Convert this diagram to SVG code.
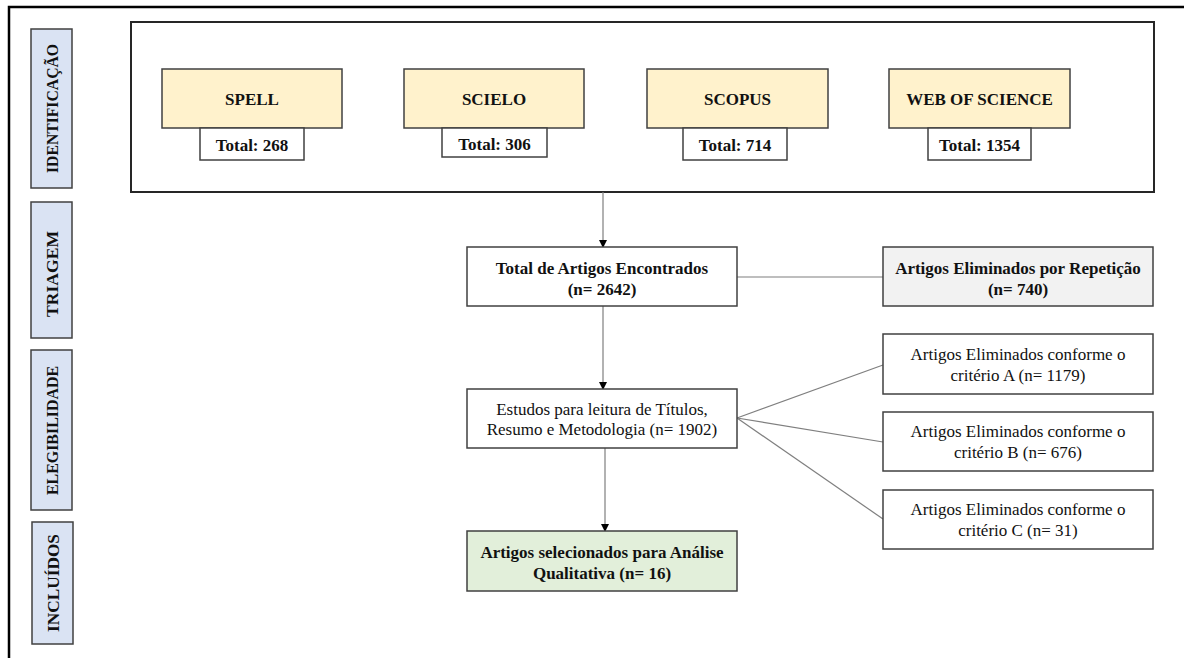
<svg xmlns="http://www.w3.org/2000/svg" width="1184" height="658" viewBox="0 0 1184 658" font-family="Liberation Serif">
<defs>
<marker id="arr" markerWidth="8" markerHeight="8" refX="7" refY="4" orient="auto" markerUnits="userSpaceOnUse">
<path d="M0,0 L8,4 L0,8 Z" fill="#000"/>
</marker>
<style>
text{fill:#111;text-anchor:middle}
.b{font-weight:bold}
.side rect{fill:#dae3f3;stroke:#404040;stroke-width:1.5}
.side text{font-weight:bold}
.src{fill:#fff2cc;stroke:#404040;stroke-width:1.5}
.tot{fill:#fff;stroke:#404040;stroke-width:1.5}
.box{fill:#fff;stroke:#404040;stroke-width:1.5}
.con line{stroke:#7f7f7f;stroke-width:1.2;fill:none}
</style>
</defs>
<rect width="1184" height="658" fill="#fff"/>
<path d="M9,658 L9,7 L1184,7" fill="none" stroke="#000" stroke-width="2.5"/>

<g id="side-identificacao" class="side" font-family="Liberation Serif" font-size="16.5"><rect x="31" y="29" width="41" height="159"/><text transform="translate(58,108.5) rotate(-90)" textLength="129" lengthAdjust="spacingAndGlyphs">IDENTIFICAÇÃO</text></g>
<g id="side-triagem" class="side" font-family="Liberation Serif" font-size="16.5"><rect x="31" y="202" width="41" height="136"/><text transform="translate(58,274) rotate(-90)" textLength="86" lengthAdjust="spacingAndGlyphs">TRIAGEM</text></g>
<g id="side-elegibilidade" class="side" font-family="Liberation Serif" font-size="16.5"><rect x="31" y="350" width="41" height="160"/><text transform="translate(58,430.5) rotate(-90)" textLength="129" lengthAdjust="spacingAndGlyphs">ELEGIBILIDADE</text></g>
<g id="side-incluidos" class="side" font-family="Liberation Serif" font-size="16.5"><rect x="32" y="522" width="41" height="122"/><text transform="translate(59,583) rotate(-90)" textLength="98" lengthAdjust="spacingAndGlyphs">INCLUÍDOS</text></g>

<g id="identificacao-container"><rect x="131" y="22" width="1023" height="170" fill="#fff" stroke="#262626" stroke-width="2"/></g>

<g id="spell" font-family="Liberation Serif" font-size="17"><rect class="src" x="162" y="69" width="180" height="59"/><text class="b" x="252" y="105">SPELL</text>
<rect class="tot" x="200" y="128" width="104" height="32"/><text class="b" x="252" y="151">Total: 268</text></g>
<g id="scielo" font-family="Liberation Serif" font-size="17"><rect class="src" x="404" y="69" width="180" height="59"/><text class="b" x="494" y="105">SCIELO</text>
<rect class="tot" x="442" y="128" width="105" height="29"/><text class="b" x="494.5" y="150">Total: 306</text></g>
<g id="scopus" font-family="Liberation Serif" font-size="17"><rect class="src" x="647" y="69" width="181" height="59"/><text class="b" x="737.5" y="105">SCOPUS</text>
<rect class="tot" x="683" y="128" width="104" height="32"/><text class="b" x="735" y="151">Total: 714</text></g>
<g id="wos" font-family="Liberation Serif" font-size="17"><rect class="src" x="889" y="69" width="181" height="59"/><text class="b" x="979.5" y="105">WEB OF SCIENCE</text>
<rect class="tot" x="928" y="128" width="103" height="32"/><text class="b" x="979.5" y="151">Total: 1354</text></g>

<g id="connectors" class="con">
<line x1="603" y1="192" x2="603" y2="247" marker-end="url(#arr)"/>
<line x1="603" y1="306" x2="603" y2="389" marker-end="url(#arr)"/>
<line x1="605" y1="448" x2="605" y2="531" marker-end="url(#arr)"/>
<line x1="737" y1="277" x2="883" y2="277"/>
<line x1="737" y1="418" x2="883" y2="365"/>
<line x1="737" y1="418" x2="883" y2="442"/>
<line x1="737" y1="418" x2="883" y2="519"/>
</g>

<g id="total-artigos" font-family="Liberation Serif" font-size="17"><rect class="box" x="467" y="247" width="270" height="59"/>
<text class="b" x="602" y="274">Total de Artigos Encontrados</text><text class="b" x="602" y="295">(n= 2642)</text></g>
<g id="repeticao" font-family="Liberation Serif" font-size="17"><rect x="883" y="247" width="270" height="59" fill="#f2f2f2" stroke="#404040" stroke-width="1.5"/>
<text class="b" x="1018" y="274">Artigos Eliminados por Repetição</text><text class="b" x="1018" y="295">(n= 740)</text></g>
<g id="estudos" font-family="Liberation Serif" font-size="17"><rect class="box" x="467" y="389" width="270" height="59"/>
<text x="602" y="415">Estudos para leitura de Títulos,</text><text x="602" y="435">Resumo e Metodologia (n= 1902)</text></g>
<g id="selecionados" font-family="Liberation Serif" font-size="17"><rect x="467" y="531" width="270" height="60" fill="#e2efda" stroke="#404040" stroke-width="1.5"/>
<text class="b" x="602" y="558">Artigos selecionados para Análise</text><text class="b" x="602" y="579">Qualitativa (n= 16)</text></g>
<g id="criterio-a" font-family="Liberation Serif" font-size="17"><rect class="box" x="883" y="334" width="270" height="60"/>
<text x="1018" y="360">Artigos Eliminados conforme o</text><text x="1018" y="381">critério A (n= 1179)</text></g>
<g id="criterio-b" font-family="Liberation Serif" font-size="17"><rect class="box" x="883" y="412" width="270" height="59"/>
<text x="1018" y="437">Artigos Eliminados conforme o</text><text x="1018" y="458">critério B (n= 676)</text></g>
<g id="criterio-c" font-family="Liberation Serif" font-size="17"><rect class="box" x="883" y="490" width="270" height="59"/>
<text x="1018" y="515">Artigos Eliminados conforme o</text><text x="1018" y="536">critério C (n= 31)</text></g>
</svg>
